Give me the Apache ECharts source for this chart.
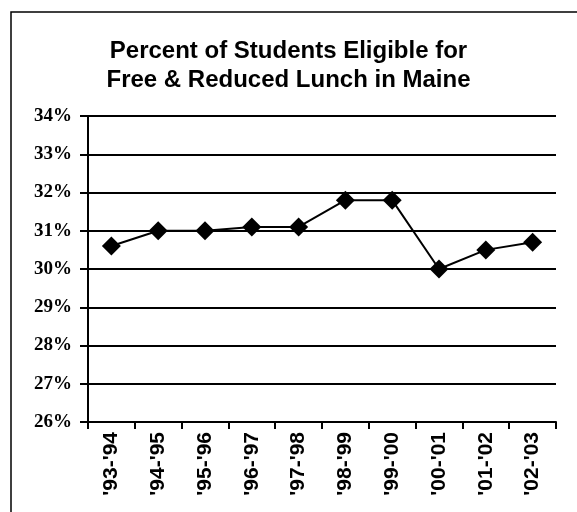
<!DOCTYPE html>
<html>
<head>
<meta charset="utf-8">
<script src="https://cdn.jsdelivr.net/npm/echarts@6/dist/echarts.min.js"></script>
<style>
  html, body { margin: 0; padding: 0; background: #fff; }
  #chart { width: 577px; height: 512px; }
</style>
</head>
<body>
<div id="chart"></div>
<script>
const years = ["'93-'94", "'94-'95", "'95-'96", "'96-'97", "'97-'98", "'98-'99", "'99-'00", "'00-'01", "'01-'02", "'02-'03"]
const eligiblePct = [30.6, 31.0, 31.0, 31.1, 31.1, 31.8, 31.8, 30.0, 30.5, 30.7]

const myChart = echarts.init(document.getElementById('chart'))
myChart.setOption({
  backgroundColor: '#fff',
  animation: false,
  title: {
    text: 'Percent of Students Eligible for\nFree & Reduced Lunch in Maine',
    left: 'center',
    top: 37,
    padding: 0,
    textStyle: {
      fontFamily: 'Liberation Sans',
      fontWeight: 'bold',
      fontSize: 24,
      lineHeight: 29,
      color: '#000',
    },
  },
  graphic: [
    {
      type: 'rect',
      shape: { x: 11, y: 12, width: 700, height: 700 },
      style: { fill: 'none', stroke: '#000', lineWidth: 1.5 },
      silent: true,
    },
  ],
  grid: {
    left: 88,
    right: 21,
    top: 116,
    bottom: 90,
  },
  xAxis: {
    type: 'category',
    data: years,
    boundaryGap: true,
    axisLine: { lineStyle: { color: '#000', width: 2 } },
    axisTick: { show: true, length: 7, lineStyle: { color: '#000', width: 2 } },
    axisLabel: {
      rotate: 90,
      margin: 10,
      color: '#000',
      fontFamily: 'Liberation Sans',
      fontWeight: 'bold',
      fontSize: 21,
    },
  },
  yAxis: {
    type: 'value',
    min: 26,
    max: 34,
    interval: 1,
    axisLine: { show: true, lineStyle: { color: '#000', width: 2 } },
    axisTick: { show: true, length: 8, lineStyle: { color: '#000', width: 2 } },
    splitLine: { lineStyle: { color: '#000', width: 2 } },
    axisLabel: {
      formatter: v => `${v}%`,
      margin: 16,
      color: '#000',
      fontFamily: 'Liberation Serif',
      fontWeight: 'bold',
      fontSize: 19,
    },
  },
  series: [
    {
      name: 'Eligible',
      type: 'line',
      data: eligiblePct,
      symbol: 'diamond',
      symbolSize: 19,
      lineStyle: { color: '#000', width: 2 },
      itemStyle: { color: '#000' },
    },
  ],
})
</script>
</body>
</html>
